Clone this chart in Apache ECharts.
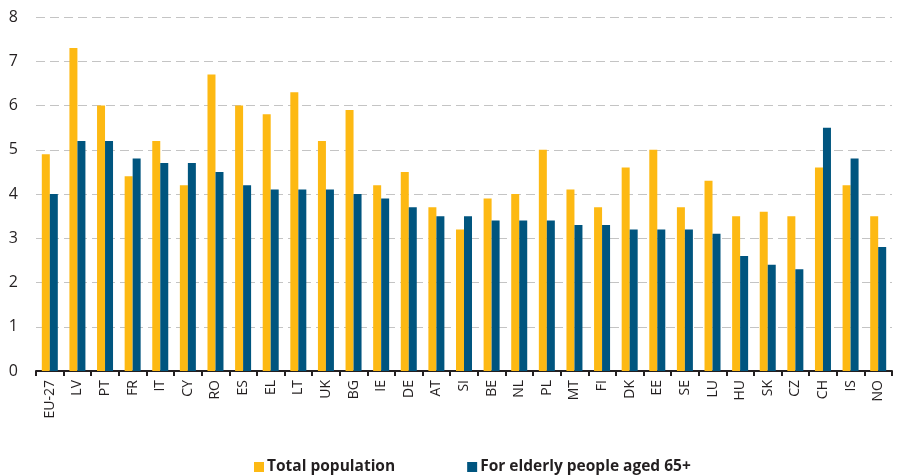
<!DOCTYPE html>
<html>
<head>
<meta charset="utf-8">
<script src="https://cdn.jsdelivr.net/npm/echarts@6/dist/echarts.min.js"></script>
<style>
html,body{margin:0;padding:0;background:#fff;}
#c{width:897px;height:476px;}
</style>
</head>
<body>
<div id="c"></div>
<script>
const categories = ["EU-27","LV","PT","FR","IT","CY","RO","ES","EL","LT","UK","BG","IE","DE","AT","SI","BE","NL","PL","MT","FI","DK","EE","SE","LU","HU","SK","CZ","CH","IS","NO"];
const totalPopulation = [4.9,7.3,6.0,4.4,5.2,4.2,6.7,6.0,5.8,6.3,5.2,5.9,4.2,4.5,3.7,3.2,3.9,4.0,5.0,4.1,3.7,4.6,5.0,3.7,4.3,3.5,3.6,3.5,4.6,4.2,3.5];
const elderly65 = [4.0,5.2,5.2,4.8,4.7,4.7,4.5,4.2,4.1,4.1,4.1,4.0,3.9,3.7,3.5,3.5,3.4,3.4,3.4,3.3,3.3,3.2,3.2,3.2,3.1,2.6,2.4,2.3,5.5,4.8,2.8];
const seriesNames = ["Total population","For elderly people aged 65+"];
const colors = ["#FDB913","#00557F"];

const chart = echarts.init(document.getElementById('c'), null, {renderer:'canvas'});
chart.setOption({
  animation:false,
  color: colors,
  textStyle:{fontFamily:"Open Sans", color:"#231F20"},
  grid:{left:36, right:5, top:17, bottom:105, containLabel:false},
  legend:{
    top:454, left:249,
    itemWidth:10, itemHeight:10, itemGap:72,
    icon:'rect',
    textStyle:{fontFamily:"Open Sans", fontWeight:'bold', fontSize:15.5, color:"#231F20", padding:[0,0,0,-2]},
    data: seriesNames
  },
  xAxis:{
    type:'category',
    data: categories,
    axisLine:{lineStyle:{color:"#231F20", width:2}},
    axisTick:{show:true, length:5, lineStyle:{color:"#231F20", width:2}},
    axisLabel:{rotate:90, fontSize:14, color:"#231F20", margin:9, fontFamily:"Open Sans"}
  },
  yAxis:{
    type:'value', min:0, max:8, interval:1,
    axisLine:{show:false}, axisTick:{show:false},
    axisLabel:{fontSize:16, color:"#231F20", margin:18, fontFamily:"Open Sans"},
    splitLine:{lineStyle:{color:"#c4c4c4", type:[9,5], width:1}}
  },
  series:[
    {name:seriesNames[0], type:'bar', data: totalPopulation, barWidth:8, barGap:'0%', itemStyle:{color:colors[0]}},
    {name:seriesNames[1], type:'bar', data: elderly65, barWidth:8, barGap:'0%', itemStyle:{color:colors[1]}}
  ]
});
</script>
</body>
</html>
